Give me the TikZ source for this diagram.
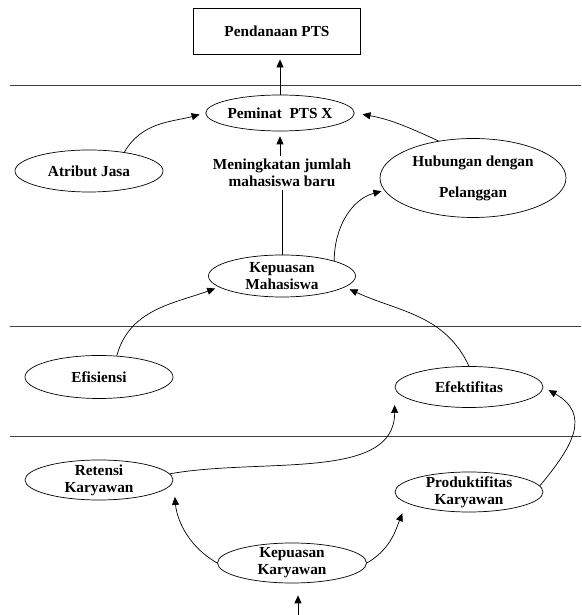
\documentclass[tikz,border=0pt]{standalone}
\usepackage{fontspec}
\setmainfont{Liberation Serif}
\usetikzlibrary{arrows.meta,shapes}

\begin{document}
\begin{tikzpicture}[x=1pt,y=1pt,
	every node/.style={font=\fontsize{15.3}{17}\selectfont\bfseries,align=center},
	oval/.style={draw,ellipse,line width=0.7pt,inner xsep=0pt,inner ysep=-6pt,
		minimum width=148pt,minimum height=41pt},
	box/.style={draw,rectangle,line width=0.8pt,minimum width=167pt,minimum height=46pt},
	divider/.style={draw=black!75,line width=1pt},
	arr/.style={-{Triangle[length=8pt,width=7pt]},line width=0.7pt}]
		\useasboundingbox (0,0) rectangle (581,615);
		% levels
		\draw[divider] (10,529) -- (581,529);
		\draw[divider] (10,288) -- (581,288);
		\draw[divider] (10,178) -- (581,178);
		%
		\node[box] (PD) at (277,584) {Pendanaan PTS};
		\node[oval,minimum width=147pt,minimum height=36pt] (PM) at (280,502) {Peminat~~PTS X};
		\node[oval,minimum height=42pt] (AJ) at (89,444) {Atribut Jasa};
		\node[inner sep=3pt] (MJ) at (282,442) {Meningkatan jumlah\\mahasiswa baru};
		\node[oval,minimum width=186pt,minimum height=79pt] (HB) at (473,437) {Hubungan dengan\\[14pt]Pelanggan};
		\node[oval,minimum width=147pt,minimum height=42pt] (KM) at (282,339) {Kepuasan\\Mahasiswa};
		\node[oval,minimum height=43pt] (ES) at (99,238) {Efisiensi};
		\node[oval] (ET) at (469,228) {Efektifitas};
		\node[oval,minimum height=40pt] (RK) at (99,135) {Retensi\\Karyawan};
		\node[oval,minimum height=40pt] (PK) at (469,123) {Produktifitas\\Karyawan};
		\node[oval,minimum width=149pt,minimum height=40pt] (KK) at (292,52) {Kepuasan\\Karyawan};
		\coordinate (entry) at (298,0);
		%
		\path[arr]
		% straight arrows
		(PM.north) edge[shorten >=5pt] (PM.north |- PD.south)
		(PM.south |- MJ.north) edge[shorten >=5pt] (PM.south)
		(entry) edge[shorten >=12pt] (entry |- KK.south)
		% curved arrows, top level
		(AJ.28) edge[out=60,in=195,shorten >=6pt] (PM.west)
		(HB.133) edge[out=155,in=-10,shorten >=8pt] (PM.east)
		(KM.north east) edge[out=90,in=195,shorten >=3pt] (HB.188)
		% curved arrows, middle level
		(ES.50) edge[out=75,in=200,shorten >=4pt] (KM.190)
		(ET.north) edge[out=115,in=-25,shorten >=5pt] (KM.-10)
		% curved arrows, bottom level
		(RK.5) edge[out=10,in=-90,shorten >=18pt] (ET.west)
		(PK.5) edge[out=50,in=-30,looseness=1.4,shorten >=6pt] (ET.east)
		(KK.west) edge[out=150,in=-85,shorten >=17pt] (RK.east)
		(KK.east) edge[out=30,in=-112,shorten >=11pt] (PK.190);
		\draw[line width=0.7pt] (KM.north) -- (KM.north |- MJ.south);
	\end{tikzpicture}
\end{document}
